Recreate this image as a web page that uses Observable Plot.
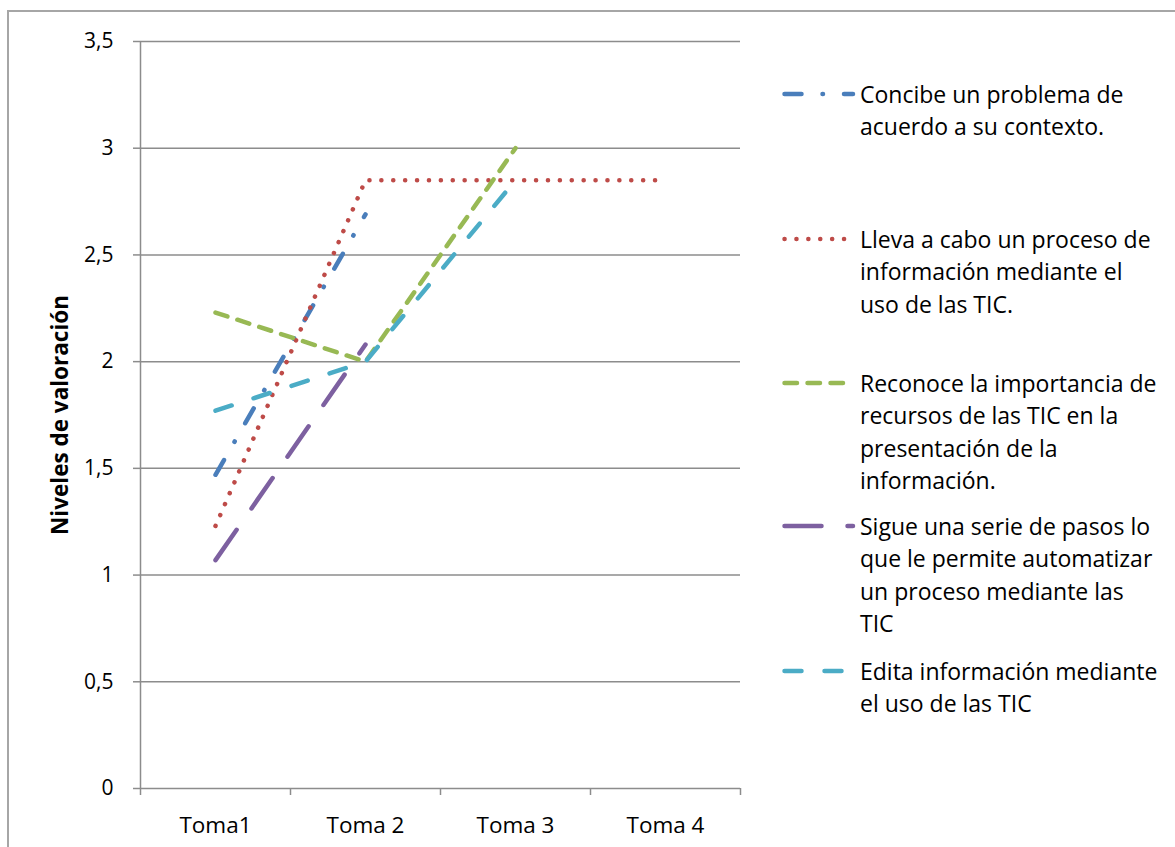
<!DOCTYPE html>
<html>
<head>
<meta charset="utf-8">
<script src="https://cdn.jsdelivr.net/npm/d3@7"></script>
<script src="https://cdn.jsdelivr.net/npm/@observablehq/plot@0.6"></script>
<style>
  html, body { margin: 0; padding: 0; background: #fff; }
  #wrap { position: relative; width: 1175px; height: 847px; overflow: hidden; font-family: "Open Sans", Lato, sans-serif; }
  #frame { position: absolute; left: 7px; top: 10px; width: 1200px; height: 900px; border-left: 2px solid #a6a6a6; border-top: 2px solid #a6a6a6; box-sizing: border-box; }
  #chart { position: absolute; left: 0; top: 0; }
  #legend { position: absolute; left: 782px; top: 0; width: 393px; height: 847px; }
  .entry { position: absolute; left: 0; width: 393px; }
  .entry svg { position: absolute; left: 0; top: 11px; }
  .entry .txt { position: absolute; left: 78px; top: 0; font-size: 23px; line-height: 32.3px; color: #000; white-space: nowrap; }
</style>
</head>
<body>
<div id="wrap">
  <div id="frame"></div>
  <div id="chart"></div>
  <div id="legend"></div>
</div>
<script>
// ---- data ----
const categories = ["Toma1", "Toma 2", "Toma 3", "Toma 4"];
const yTicks = [0, 0.5, 1, 1.5, 2, 2.5, 3, 3.5];
const seriesNames = [
  "Concibe un problema de\nacuerdo a su contexto.",
  "Lleva a cabo un proceso de\ninformación mediante el\nuso de las TIC.",
  "Reconoce la importancia de\nrecursos de las TIC en la\npresentación de la\ninformación.",
  "Sigue una serie de pasos lo\nque le permite automatizar\nun proceso mediante las\nTIC",
  "Edita información mediante\nel uso de las TIC"
];
const concibe  = [1.47, 2.69, null, null];
const lleva    = [1.23, 2.85, 2.85, 2.85];
const reconoce = [2.23, 2.00, 3.00, null];
const sigue    = [1.07, 2.08, null, null];
const edita    = [1.77, 2.00, 2.85, null];

const seriesValues = [concibe, lleva, reconoce, sigue, edita];
const colors = ["#4a7ebb", "#be4b48", "#98b954", "#7d60a0", "#4bacc6"];
const dashes = ["17,21,0.5,21", "0.1,11.8", "12.5,10.5", "37,26", "17,23"];
const legendTops = [78, 223, 367, 510, 655];

// ---- chart ----
const fontFam = "'Open Sans', Lato, sans-serif";
const lineMarks = seriesValues.map((vals, k) =>
  Plot.line(vals, {
    x: (d, i) => i + 0.5,
    y: d => d,
    stroke: colors[k],
    strokeWidth: 4.5,
    strokeDasharray: dashes[k],
    strokeLinecap: "round",
    strokeLinejoin: "round"
  })
);

const chart = Plot.plot({
  width: 1175,
  height: 847,
  marginLeft: 140,
  marginRight: 435,
  marginTop: 41,
  marginBottom: 59,
  style: { fontFamily: fontFam, fontSize: "21px", background: "transparent", overflow: "visible" },
  x: { domain: [0, 4], axis: null },
  y: { domain: [0, 3.5], axis: null },
  marks: [
    Plot.ruleY(yTicks, { stroke: "#8c8c8c", strokeWidth: 1.5 }),
    Plot.ruleX([0], { stroke: "#8c8c8c", strokeWidth: 1.5 }),
    Plot.axisY({
      ticks: yTicks, tickSize: 7, tickPadding: 20, stroke: "#8c8c8c", strokeWidth: 1.5,
      tickFormat: d => String(d).replace(".", ","), fontSize: 21, fill: "#000", label: null
    }),
    Plot.axisX({
      ticks: [0, 1, 2, 3, 4], tickSize: 7, tickFormat: () => "", stroke: "#8c8c8c", strokeWidth: 1.5, label: null
    }),
    Plot.axisX({
      ticks: categories.map((c, i) => i + 0.5), tickSize: 0, tickPadding: 29,
      tickFormat: d => categories[Math.round(d - 0.5)], fontSize: 22.5, fill: "#000", label: null
    }),
    Plot.text(["Niveles de valoración"], {
      frameAnchor: "left", textAnchor: "middle", rotate: -90, dx: -80,
      fontWeight: "bold", fontSize: 22.5, fill: "#000"
    }),
    ...lineMarks
  ]
});
document.getElementById("chart").appendChild(chart);

// ---- legend ----
const legend = document.getElementById("legend");
seriesNames.forEach((name, k) => {
  const e = document.createElement("div");
  e.className = "entry";
  e.style.top = legendTops[k] + "px";
  const ns = "http://www.w3.org/2000/svg";
  const s = document.createElementNS(ns, "svg");
  s.setAttribute("width", "76");
  s.setAttribute("height", "10");
  const l = document.createElementNS(ns, "line");
  l.setAttribute("x1", "2.5"); l.setAttribute("x2", "71");
  l.setAttribute("y1", "5"); l.setAttribute("y2", "5");
  l.setAttribute("stroke", colors[k]);
  l.setAttribute("stroke-width", "4.5");
  l.setAttribute("stroke-dasharray", dashes[k]);
  l.setAttribute("stroke-linecap", "round");
  s.appendChild(l);
  e.appendChild(s);
  const t = document.createElement("div");
  t.className = "txt";
  t.innerHTML = name.split("\n").join("<br>");
  e.appendChild(t);
  legend.appendChild(e);
});
</script>
</body>
</html>
